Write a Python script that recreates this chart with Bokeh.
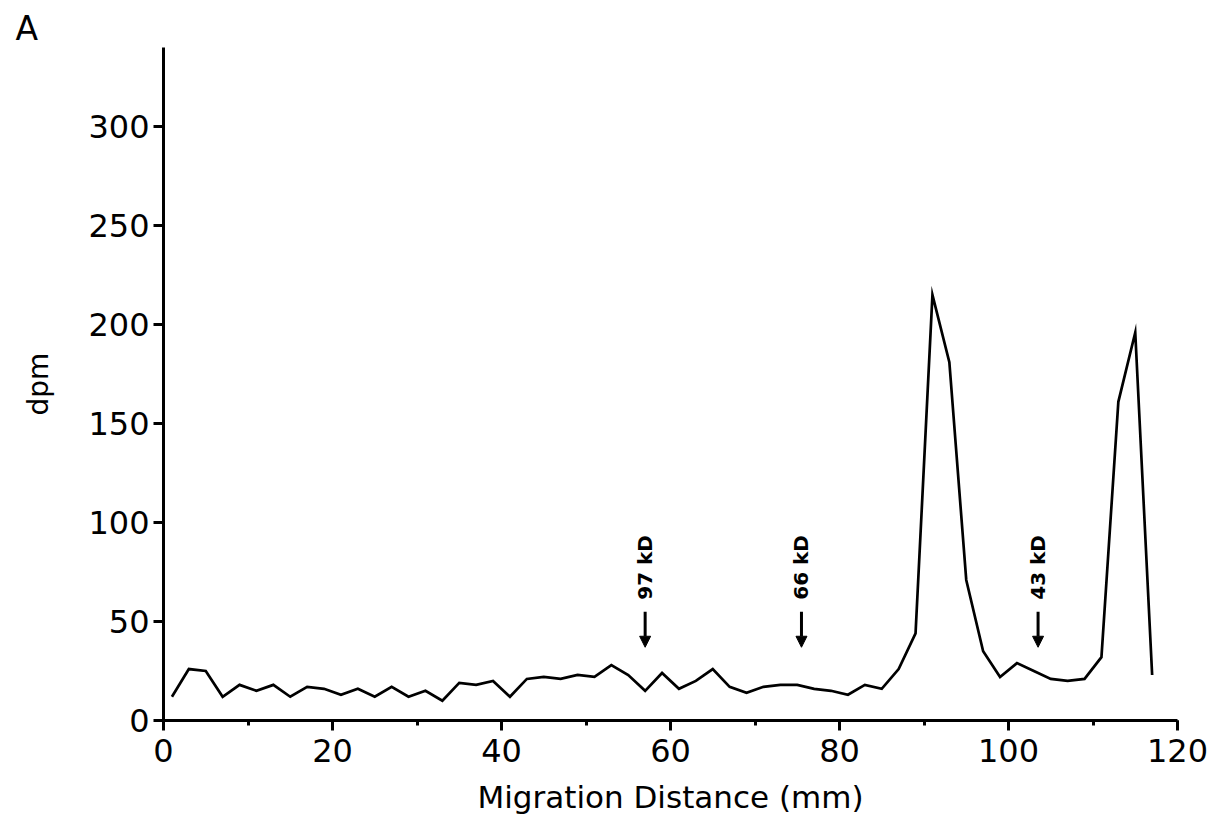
import math
from bokeh.plotting import figure
from bokeh.models import Range1d, SingleIntervalTicker, Arrow, NormalHead, ColumnDataSource, Title
from bokeh.core.properties import value
from bokeh.embed import file_html
from bokeh.resources import INLINE

# Migration distance (mm) of each slice
distance = [1, 3, 5, 7, 9, 11, 13, 15, 17, 19, 21, 23, 25, 27, 29, 31, 33, 35, 37, 39,
            41, 43, 45, 47, 49, 51, 53, 55, 57, 59, 61, 63, 65, 67, 69, 71, 73, 75, 77, 79,
            81, 83, 85, 87, 89, 91, 93, 95, 97, 99, 101, 103, 105, 107, 109, 111, 113, 115, 117]
# radioactivity (dpm)
dpm = [12, 26, 25, 12, 18, 15, 18, 12, 17, 16, 13, 16, 12, 17, 12, 15, 10, 19, 18, 20,
       12, 21, 22, 21, 23, 22, 28, 23, 15, 24, 16, 20, 26, 17, 14, 17, 18, 18, 16, 15,
       13, 18, 16, 26, 44, 215, 181, 71, 35, 22, 29, 25, 21, 20, 21, 32, 161, 196, 23]

# molecular weight markers
marker_labels = ["97 kD", "66 kD", "43 kD"]
marker_pos = [57, 75.5, 103.5]
arrow_top = 55
arrow_tip = 37
label_base = 61

x_ticks_interval = 20
y_ticks_interval = 50

FONT = "DejaVu Sans"

p = figure(width=1217, height=834, output_backend="svg", toolbar_location=None,
           x_range=Range1d(0, 120), y_range=Range1d(0, 340),
           min_border_left=163, min_border_right=40, min_border_top=47, min_border_bottom=114)
p.outline_line_color = None
p.xgrid.visible = False
p.ygrid.visible = False
p.background_fill_color = "white"
p.border_fill_color = "white"

p.line(distance, dpm, line_color="black", line_width=2.7, line_join="miter")

for ax in (p.xaxis[0], p.yaxis[0]):
    ax.axis_line_width = 3
    ax.axis_line_color = "black"
    ax.major_tick_line_width = 3
    ax.major_tick_line_color = "black"
    ax.major_tick_in = 0
    ax.major_tick_out = 10
    ax.major_label_text_font = FONT
    ax.major_label_text_font_size = "32px"
    ax.major_label_text_color = "black"
    ax.axis_label_text_font = FONT
    ax.axis_label_text_font_style = "normal"
    ax.axis_label_text_color = "black"

p.xaxis[0].ticker = SingleIntervalTicker(interval=x_ticks_interval, num_minor_ticks=2)
p.xaxis[0].minor_tick_line_width = 3
p.xaxis[0].minor_tick_line_color = "black"
p.xaxis[0].minor_tick_in = 0
p.xaxis[0].minor_tick_out = 5
p.xaxis[0].major_label_standoff = 8
p.xaxis[0].axis_label = "Migration Distance (mm)"
p.xaxis[0].axis_label_text_font_size = "31px"
p.xaxis[0].axis_label_standoff = 14

p.yaxis[0].ticker = SingleIntervalTicker(interval=y_ticks_interval, num_minor_ticks=0)
p.yaxis[0].minor_tick_line_color = None
p.yaxis[0].major_label_standoff = 4
p.yaxis[0].axis_label = "dpm"
p.yaxis[0].axis_label_text_font_size = "28px"
p.yaxis[0].axis_label_standoff = 30

for name, xpos in zip(marker_labels, marker_pos):
    p.add_layout(Arrow(x_start=xpos, y_start=arrow_top, x_end=xpos, y_end=arrow_tip,
                       line_width=3, line_color="black",
                       end=NormalHead(size=11, fill_color="black", line_color="black", line_width=1)))

src = ColumnDataSource(dict(x=marker_pos, y=[label_base] * 3, t=marker_labels))
p.text(x="x", y="y", text="t", source=src, angle=math.pi / 2,
       text_align="left", text_baseline="middle",
       text_font=value(FONT), text_font_style="bold", text_font_size="20px", text_color="black")

p.add_layout(Title(text="A", text_font=FONT, text_font_size="33px", text_font_style="normal",
                   text_color="black", align="left", offset=-148, standoff=0), "above")

open("out.html", "w").write(file_html(p, INLINE))
